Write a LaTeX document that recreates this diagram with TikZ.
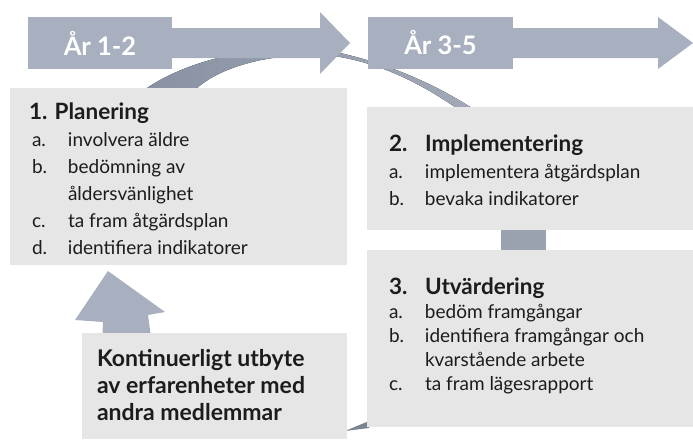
\documentclass[tikz,border=0pt]{standalone}
\usepackage{fontspec}
\setmainfont{Lato}
\usetikzlibrary{positioning}
\definecolor{arrowblue}{HTML}{A8B0BF}
\definecolor{arcdark}{HTML}{8892A2}
\definecolor{arclight}{HTML}{A2AAB8}
\definecolor{arcmid}{HTML}{9AA2B0}
\definecolor{boxgray}{HTML}{E6E6E6}
\definecolor{textdark}{HTML}{1C1C1C}
\newcommand{\headfont}{\fontsize{22.5}{27}\selectfont\bfseries}
\tikzset{
	every node/.style={inner sep=0pt,outer sep=0pt},
	box/.style={shape=rectangle,fill=boxgray,draw=none,anchor=north west},
	yearbox/.style={shape=rectangle,fill=arrowblue,draw=none,text=white,font=\fontsize{25.5}{28}\selectfont\bfseries},
	boxtext/.style={anchor=north west,text=textdark,font=\fontsize{19}{27}\selectfont},
	sharetext/.style={anchor=north west,text=textdark,align=left,font=\fontsize{23}{27}\selectfont\bfseries},
}
\tikzstyle{arcpiece} = [left color=arcdark,right color=arclight]

\begin{document}
\begin{tikzpicture}[x=1pt,y=-1pt]
	\useasboundingbox (0,0) rectangle (693,439);
	\fill[white] (0,0) rectangle (693,439);

	\fill[arcpiece] (140,93) .. controls (190,55) and (280,40) .. (340,53)
		.. controls (380,62) and (430,80) .. (478,112)
		-- (462,112) .. controls (420,82) and (380,64) .. (340,57)
		.. controls (290,50) and (220,62) .. (192,93) -- cycle;
	\fill[arcmid] (501,226) rectangle (546,254);
	\fill[arrowblue] (102,345) -- (103,322) -- (75,320) -- (108,271) -- (165,312) -- (148,315) -- (152,345) -- cycle;
	\fill[arcdark!90!black] (345,431) -- (369,421) -- (369,428) -- cycle;

	\node[yearbox, minimum width=144pt, minimum height=52pt] (year1) at (100,43) {År 1-2};
	\fill[arrowblue] (year1.east) ++(0,-15) -- (320,28) -- (320,12) -- (350,43) -- (320,74) -- (320,58) -- (172,58) -- cycle;
	\node[yearbox, minimum width=145pt, minimum height=52pt] (year2) at (440.5,43) {År 3-5};
	\fill[arrowblue] (year2.east) ++(0,-15) -- (658,28) -- (658,17) -- (693,43) -- (658,69) -- (658,58) -- (513,58) -- cycle;

	\node[box, minimum width=337pt, minimum height=177pt] (plan) at (10,88) {};
	\node[box, minimum width=326pt, minimum height=123pt] (impl) at (367,107) {};
	\node[box, minimum width=326pt, minimum height=177pt] (eval) at (367,250) {};
	\node[box, minimum width=265pt, minimum height=106pt] (share) at (82,333) {};

	\node[boxtext] (plantext) at (29,101) {\begin{tabular}[t]{@{\hspace{3pt}}p{36pt}@{}l@{}}
		\multicolumn{2}{@{}l@{}}{\headfont 1. Planering}\\
		a. & involvera äldre\\
		b. & bedömning av\\
		   & åldersvänlighet\\
		c. & ta fram åtgärdsplan\\
		d. & identifiera indikatorer
	\end{tabular}};
	\node[boxtext] (impltext) at (389,133) {\begin{tabular}[t]{@{}p{36pt}@{}l@{}}
		\headfont 2. & \headfont Implementering\\
		a. & implementera åtgärdsplan\\
		b. & bevaka indikatorer
	\end{tabular}};
	\node[boxtext, font=\fontsize{19}{24}\selectfont] (evaltext) at (389,278) {\begin{tabular}[t]{@{}p{36pt}@{}l@{}}
		\headfont 3. & \headfont Utvärdering\\
		a. & bedöm framgångar\\
		b. & identifiera framgångar och\\
		   & kvarstående arbete\\
		c. & ta fram lägesrapport
	\end{tabular}};
	\node[sharetext] (sharetxt) at (97,349) {Kontinuerligt utbyte\\av erfarenheter med\\andra medlemmar};
\end{tikzpicture}
\end{document}
